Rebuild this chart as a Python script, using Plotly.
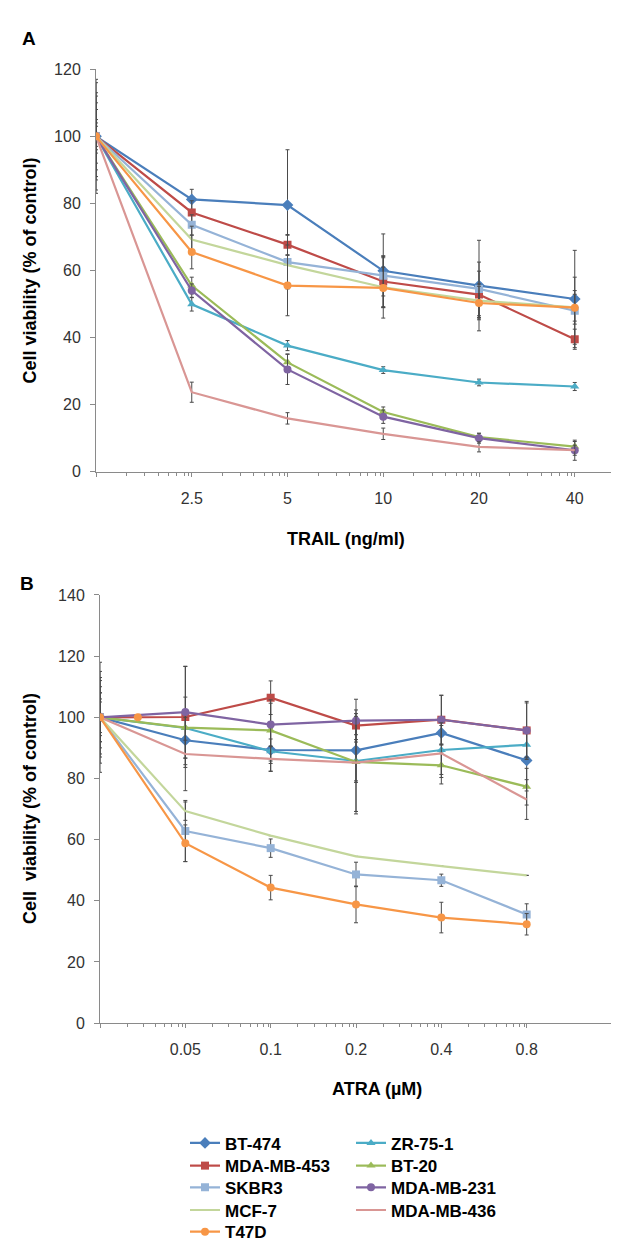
import math
import plotly.graph_objects as go

# ---------------- data ----------------
names = ["BT-474", "ZR-75-1", "MDA-MB-453", "BT-20", "SKBR3",
         "MDA-MB-231", "MCF-7", "MDA-MB-436", "T47D"]

# Panel A: TRAIL (ng/ml); control (0) drawn at the axis origin 1.25
trail_conc = [1.25, 2.5, 5, 10, 20, 40]
trail_tickvals = [1.25, 2.5, 5, 10, 20, 40]
trail_ticktext = ["", "2.5", "5", "10", "20", "40"]

A_BT474 = [100, 81.2, 79.5, 59.9, 55.5, 51.5]
A_ZR751 = [100, 49.9, 37.6, 30.3, 26.6, 25.4]
A_MDAMB453 = [100, 77.3, 67.7, 56.7, 52.8, 39.5]
A_BT20 = [100, 55.5, 32.6, 17.8, 10.3, 7.5]
A_SKBR3 = [100, 73.6, 62.5, 58.4, 54.5, 48.0]
A_MDAMB231 = [100, 54.0, 30.5, 16.4, 10.0, 6.4]
A_MCF7 = [100, 69.2, 61.6, 55.0, 51.0, 49.0]
A_MDAMB436 = [100, 23.7, 15.9, 11.3, 7.4, 6.4]
A_T47D = [100, 65.5, 55.5, 54.8, 50.3, 48.9]

A_BT474_err = [17, 3, 16.5, 11, 13.5, 14.5]
A_ZR751_err = [13, 2, 1.5, 1, 1, 1.2]
A_MDAMB453_err = [10, 3.5, 3, 7.5, 7, 3]
A_BT20_err = [5, 2.5, 2.5, 1.5, 1, 1.5]
A_SKBR3_err = [12, 3, 8, 6, 8, 10]
A_MDAMB231_err = [3, 2, 4.5, 2, 1.5, 3]
A_MCF7_err = [8, 4, 6, 6, 5, 5]
A_MDAMB436_err = [16, 3, 1.7, 1.7, 1.5, 1.5]
A_T47D_err = [4, 5, 9, 9, 5, 4]

# Panel B: ATRA (uM); control (0) drawn at the axis origin 0.025
atra_conc = [0.025, 0.05, 0.1, 0.2, 0.4, 0.8]
atra_tickvals = [0.025, 0.05, 0.1, 0.2, 0.4, 0.8, 1.6]
atra_ticktext = ["", "0.05", "0.1", "0.2", "0.4", "0.8", ""]

B_BT474 = [100, 92.5, 89.3, 89.2, 94.9, 85.9]
B_ZR751 = [100, 96.5, 88.9, 85.7, 89.3, 91.0]
B_MDAMB453 = [100, 100.1, 106.4, 97.3, 99.2, 95.7]
B_BT20 = [100, 96.6, 95.7, 85.4, 84.3, 77.3]
B_SKBR3 = [100, 62.8, 57.2, 48.6, 46.7, 35.5]
B_MDAMB231 = [100, 101.7, 97.6, 98.9, 99.2, 95.7]
B_MCF7 = [100, 69.3, 61.3, 54.5, 51.3, 48.3]
B_MDAMB436 = [100, 88.0, 86.4, 85.2, 88.2, 73.1]
B_T47D = [100, 58.8, 44.3, 38.8, 34.5, 32.3]

B_BT474_err = [12, 8, 7, 10, 4, 10]
B_ZR751_err = [13, 4, 4, 7, 8, 4]
B_MDAMB453_err = [10, 16.5, 5.5, 3, 8, 9.5]
B_BT20_err = [15, 10, 10, 17, 4, 6]
B_SKBR3_err = [8, 10, 3, 4, 2, 3.5]
B_MDAMB231_err = [18, 15, 7, 7, 8, 9]
B_MCF7_err = [6, 3, 0, 0, 0, 0]
B_MDAMB436_err = [8, 12, 4, 16, 10, 6.5]
B_T47D_err = [5, 6, 4, 6, 5, 3.5]

# isolated T47D point in panel B
B_T47D_extra_x = [0.034]
B_T47D_extra_y = [100]

A_vals = [A_BT474, A_ZR751, A_MDAMB453, A_BT20, A_SKBR3, A_MDAMB231, A_MCF7, A_MDAMB436, A_T47D]
A_errs = [A_BT474_err, A_ZR751_err, A_MDAMB453_err, A_BT20_err, A_SKBR3_err,
          A_MDAMB231_err, A_MCF7_err, A_MDAMB436_err, A_T47D_err]
B_vals = [B_BT474, B_ZR751, B_MDAMB453, B_BT20, B_SKBR3, B_MDAMB231, B_MCF7, B_MDAMB436, B_T47D]
B_errs = [B_BT474_err, B_ZR751_err, B_MDAMB453_err, B_BT20_err, B_SKBR3_err,
          B_MDAMB231_err, B_MCF7_err, B_MDAMB436_err, B_T47D_err]

# ---------------- style ----------------
colors = {
    "BT-474": "#4A7EBB", "ZR-75-1": "#4BACC6", "MDA-MB-453": "#BE4B48",
    "BT-20": "#9BBB59", "SKBR3": "#95B3D7", "MDA-MB-231": "#7F64A2",
    "MCF-7": "#C3D69B", "MDA-MB-436": "#D99694", "T47D": "#F79646",
}
symbols = {
    "BT-474": ("diamond", 9), "ZR-75-1": ("triangle-up", 8), "MDA-MB-453": ("square", 8),
    "BT-20": ("triangle-up", 8), "SKBR3": ("square", 8), "MDA-MB-231": ("circle", 8),
    "MCF-7": (None, 0), "MDA-MB-436": (None, 0), "T47D": ("circle", 8),
}
legend_of = {
    "BT-474": "legend", "ZR-75-1": "legend",
    "MDA-MB-453": "legend2", "BT-20": "legend2",
    "SKBR3": "legend3", "MDA-MB-231": "legend3",
    "MCF-7": "legend4", "MDA-MB-436": "legend4",
    "T47D": "legend5",
}

W, H = 619, 1244
FONT = "Arial, Liberation Sans, sans-serif"
AXIS_GRAY = "#8A8A8A"
ERR_COLOR = "#4A4A4A"

fig = go.Figure()


def add_series(x, y, err, name, xa, ya, show):
    sym, size = symbols[name]
    mode = "lines+markers" if sym else "lines"
    marker = dict(symbol=sym, size=size, color=colors[name]) if sym else None
    fig.add_trace(go.Scatter(
        x=x, y=y, name=name, mode=mode,
        line=dict(color=colors[name], width=2.2),
        marker=marker,
        error_y=dict(type="data", array=err, color=ERR_COLOR, thickness=1, width=2),
        xaxis=xa, yaxis=ya, legendgroup=name, showlegend=show,
        legend=legend_of[name],
    ))


for n, v, e in zip(names, A_vals, A_errs):
    add_series(trail_conc, v, e, n, "x", "y", True)
for n, v, e in zip(names, B_vals, B_errs):
    add_series(atra_conc, v, e, n, "x2", "y2", False)

fig.add_trace(go.Scatter(
    x=B_T47D_extra_x, y=B_T47D_extra_y, mode="markers", name="T47D",
    marker=dict(symbol="circle", size=8, color=colors["T47D"]),
    xaxis="x2", yaxis="y2", showlegend=False, legendgroup="T47D"))


# minor ticks in Excel style inside each major (doubling) interval
def minor_vals(majors, fracs):
    out = []
    for m in majors:
        for f in fracs:
            out.append(m * 2 ** f)
    return out


FRACS = [0.32, 0.51, 0.65, 0.76, 0.84, 0.92, 0.97]

# pixel geometry
A_left, A_right, A_top, A_bottom = 88, 619, 54, 462
B_left, B_right, B_top, B_bottom = 92, 604, 587, 1021


def px_dom_x(a, b):
    return [a / W, b / W]


def px_dom_y(top, bottom):
    return [1 - bottom / H, 1 - top / H]


A_xmax = 1.25 * 2 ** ((A_right - A_left) / 95.75)

common_x = dict(
    type="log", showline=True, linecolor=AXIS_GRAY, linewidth=1,
    ticks="outside", ticklen=4, tickcolor=AXIS_GRAY, tickwidth=1,
    showgrid=False, zeroline=False, tickmode="array",
    tickfont=dict(family=FONT, size=16, color="#333333"),
    ticklabelstandoff=8,
)
common_y = dict(
    showline=True, linecolor=AXIS_GRAY, linewidth=1,
    ticks="outside", ticklen=5, tickcolor=AXIS_GRAY, tickwidth=1,
    showgrid=False, zeroline=False, dtick=20, tick0=0,
    tickfont=dict(family=FONT, size=16, color="#333333"),
    ticklabelstandoff=6,
)

fig.update_layout(
    width=W, height=H,
    margin=dict(l=0, r=0, t=0, b=0),
    paper_bgcolor="white", plot_bgcolor="white",
    font=dict(family=FONT, color="#000000"),
    xaxis=dict(common_x, domain=px_dom_x(A_left, A_right), anchor="y",
               range=[math.log10(1.25), math.log10(A_xmax)],
               tickvals=trail_tickvals, ticktext=trail_ticktext,
               minor=dict(tickmode="array", tickvals=minor_vals([1.25, 2.5, 5, 10, 20], FRACS),
                          ticks="outside", ticklen=3, tickcolor=AXIS_GRAY)),
    yaxis=dict(common_y, domain=px_dom_y(A_top, A_bottom), anchor="x", range=[0, 120]),
    xaxis2=dict(common_x, domain=px_dom_x(B_left, B_right), anchor="y2",
                range=[math.log10(0.025), math.log10(1.6)],
                tickvals=atra_tickvals, ticktext=atra_ticktext,
                minor=dict(tickmode="array", tickvals=minor_vals([0.025, 0.05, 0.1, 0.2, 0.4], FRACS),
                           ticks="outside", ticklen=3, tickcolor=AXIS_GRAY)),
    yaxis2=dict(common_y, domain=px_dom_y(B_top, B_bottom), anchor="x2", range=[0, 140]),
)

# legends: one horizontal legend per row, two columns
row_centers = [1143, 1166, 1188, 1211, 1233]
for i, key in enumerate(["legend", "legend2", "legend3", "legend4", "legend5"]):
    fig.update_layout({key: dict(
        orientation="h", x=177 / W, xanchor="left",
        y=1 - row_centers[i] / H, yanchor="middle",
        entrywidth=121, entrywidthmode="pixels",
        bgcolor="rgba(0,0,0,0)", borderwidth=0,
        font=dict(family=FONT, size=17, color="#000000", weight="bold"),
        itemclick=False, itemdoubleclick=False,
    )})

# titles and panel labels
ann = [
    dict(text="<b>A</b>", x=21 / W, y=1 - 23 / H),
    dict(text="<b>B</b>", x=19 / W, y=1 - 575 / H),
    dict(text="<b>TRAIL (ng/ml)</b>", x=338 / W, y=1 - 530 / H),
    dict(text="<b>ATRA (\u00b5M)</b>", x=369 / W, y=1 - 1088 / H),
    dict(text="<b>Cell viability (% of control)</b>", x=22 / W, y=1 - 258 / H, textangle=-90),
    dict(text="<b>Cell\u00a0 viability (% of control)</b>", x=22 / W, y=1 - 804 / H, textangle=-90),
]
for a in ann:
    size = 19 if a["text"] in ("<b>A</b>", "<b>B</b>") else 18
    fig.add_annotation(xref="paper", yref="paper", showarrow=False,
                       xanchor="center", yanchor="middle",
                       font=dict(family=FONT, size=size, color="#000000"), **a)

fig.write_html("out.html")
